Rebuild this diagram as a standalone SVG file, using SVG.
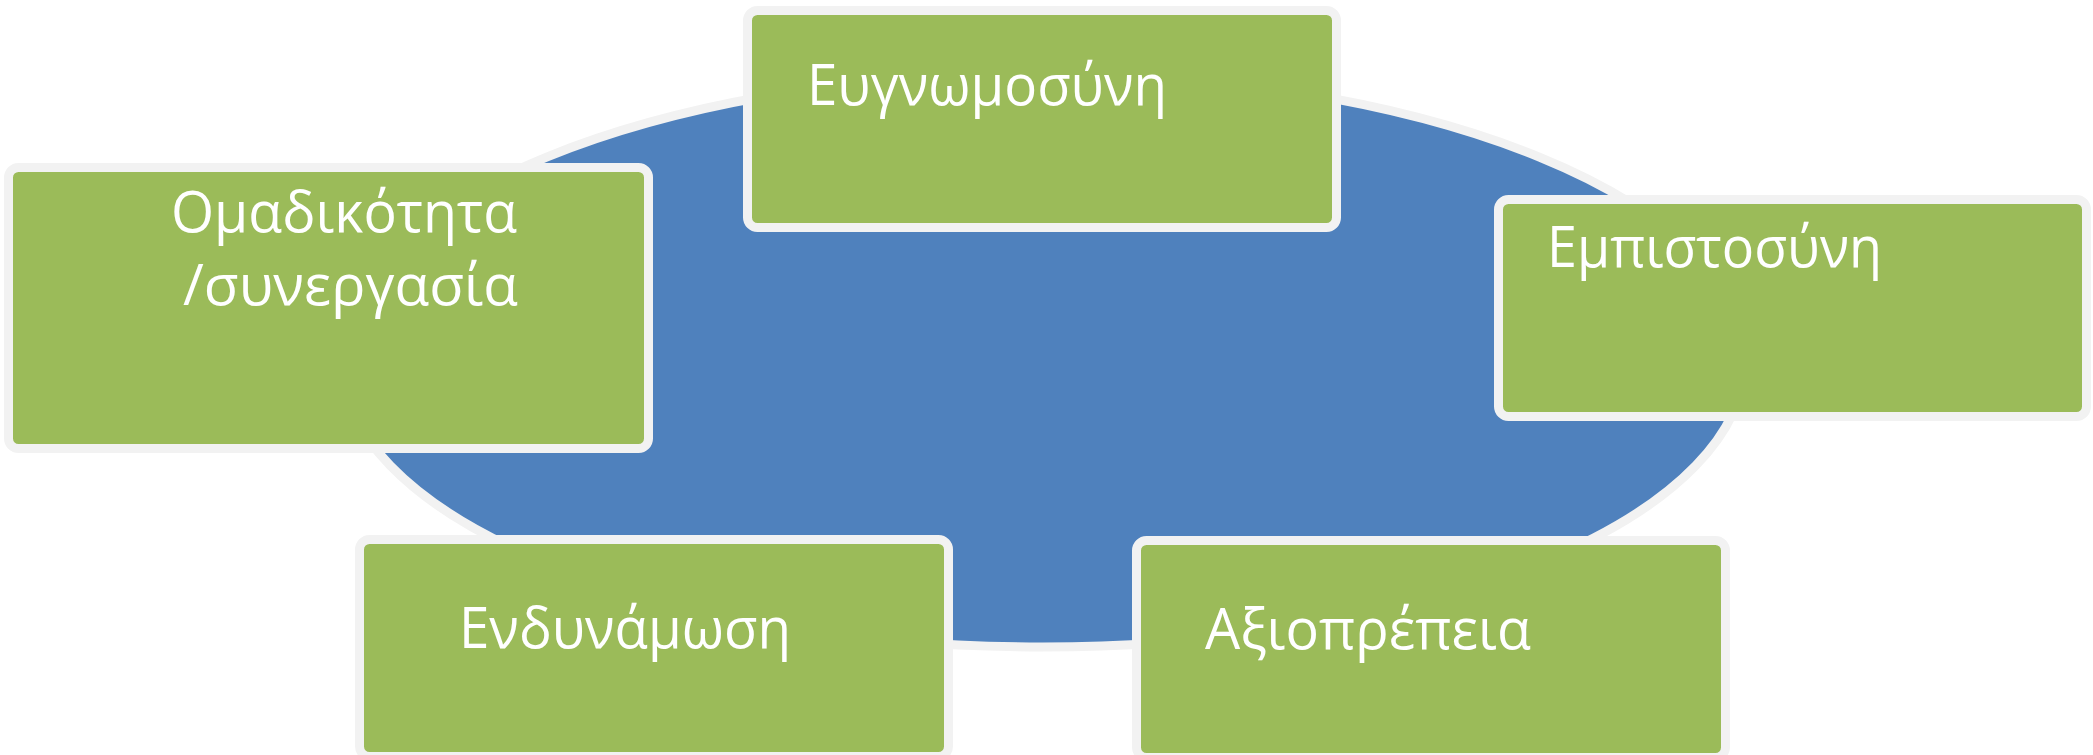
<svg xmlns="http://www.w3.org/2000/svg" width="2093" height="755" viewBox="0 0 2093 755">
  <style>
    .bg { fill: #ffffff; }
    .ring { fill: #4F81BD; stroke: #F2F2F2; stroke-width: 9; }
    .box { fill: #9BBB59; stroke: #F2F2F2; stroke-width: 9; }
    .lbl { fill: #ffffff; font-family: "Open Sans", "Noto Sans", "DejaVu Sans", sans-serif; font-weight: 400; font-size: 57px; }
  </style>
  <rect class="bg" x="0" y="0" width="2093" height="755"/>
  <g id="background-ellipse">
    <ellipse class="ring" cx="1043" cy="360" rx="702" ry="287"/>
  </g>
  <g id="connectors"></g>
  <g id="node-evgnomosyni">
    <rect class="box" x="747.5" y="10.5" width="589" height="217" rx="10"/>
    <text class="lbl" x="807" y="105" textLength="360" lengthAdjust="spacingAndGlyphs">Ευγνωμοσύνη</text>
  </g>
  <g id="node-omadikotita">
    <rect class="box" x="8.5" y="167.5" width="640" height="281" rx="10"/>
    <text class="lbl" x="171" y="232" textLength="346" lengthAdjust="spacingAndGlyphs">Ομαδικότητα</text>
    <text class="lbl" x="183" y="305" textLength="335" lengthAdjust="spacingAndGlyphs">/συνεργασία</text>
  </g>
  <g id="node-empistosyni">
    <rect class="box" x="1498.5" y="199.5" width="588" height="217" rx="10"/>
    <text class="lbl" x="1547" y="267" textLength="335" lengthAdjust="spacingAndGlyphs">Εμπιστοσύνη</text>
  </g>
  <g id="node-endynamosi">
    <rect class="box" x="359.5" y="539.5" width="589" height="217" rx="10"/>
    <text class="lbl" x="459" y="648" textLength="332" lengthAdjust="spacingAndGlyphs">Ενδυνάμωση</text>
  </g>
  <g id="node-axioprepeia">
    <rect class="box" x="1136.5" y="540.5" width="589" height="217" rx="10"/>
    <text class="lbl" x="1205" y="649" textLength="326" lengthAdjust="spacingAndGlyphs">Αξιοπρέπεια</text>
  </g>
</svg>
